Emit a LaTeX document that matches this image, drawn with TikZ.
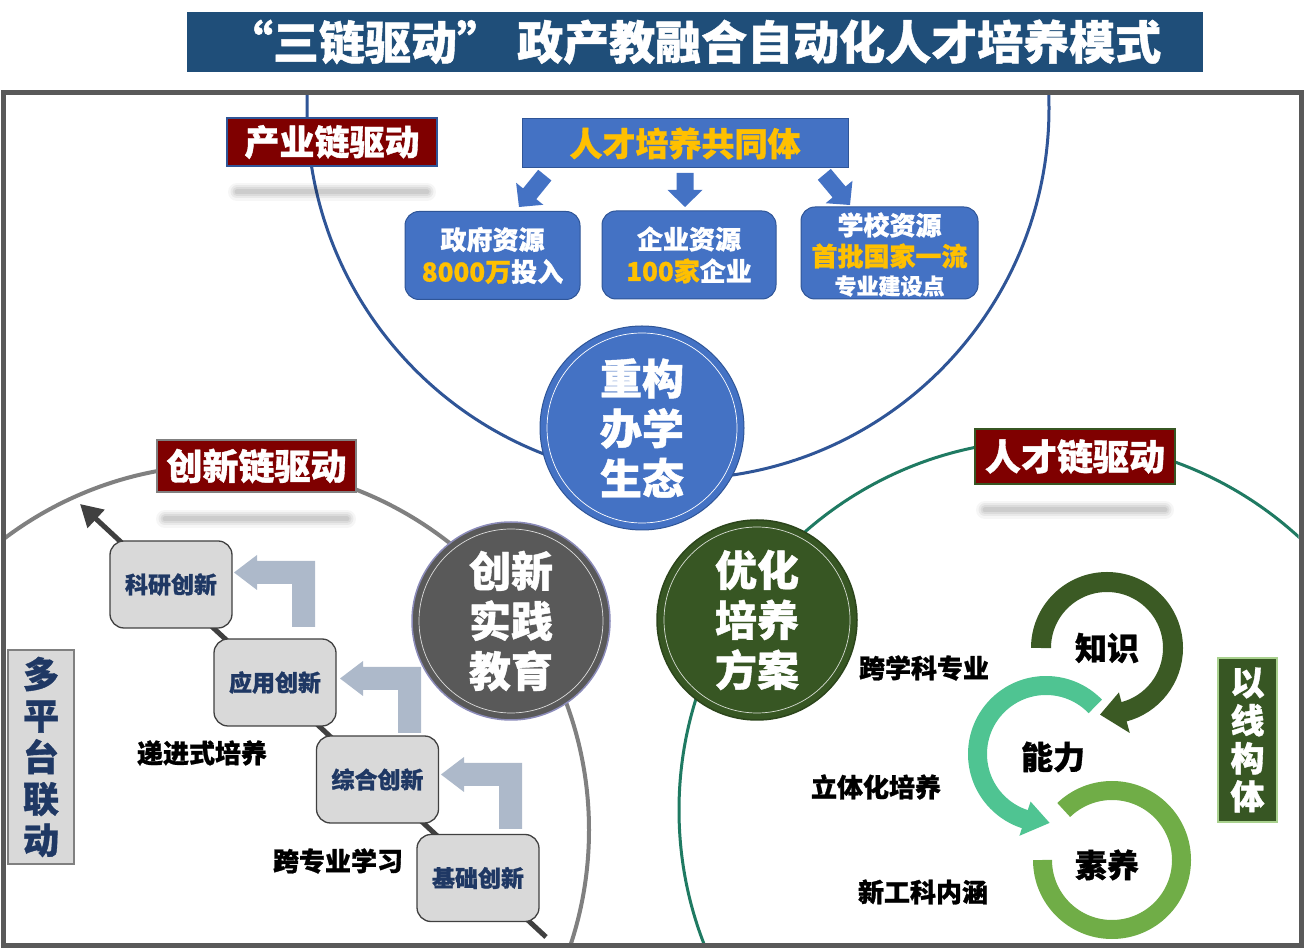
\documentclass[tikz,border=0pt]{standalone}
\usepackage{fontspec}
\setmainfont{Noto Sans CJK SC}[BoldFeatures={FakeBold=1}]
\usetikzlibrary{arrows.meta,calc}
\definecolor{titleblue}{HTML}{1F4E79}
\definecolor{framegray}{HTML}{595959}
\definecolor{bigblue}{HTML}{2F5597}
\definecolor{midblue}{HTML}{4472C4}
\definecolor{darkred}{HTML}{7F0000}
\definecolor{goldc}{HTML}{FFC000}
\definecolor{navyc}{HTML}{1F3864}
\definecolor{boxgray}{HTML}{D9D9D9}
\definecolor{elbowc}{HTML}{ADB9CA}
\definecolor{darkgreen}{HTML}{375623}
\definecolor{tealc}{HTML}{1F7A62}
\definecolor{circgray}{HTML}{808080}
\definecolor{stairgray}{HTML}{404040}
\definecolor{innergray}{HTML}{595959}
\definecolor{ringA}{HTML}{3B5A24}
\definecolor{ringB}{HTML}{4FC492}
\definecolor{ringC}{HTML}{70AD47}
\definecolor{lightgreen}{HTML}{A9D18E}
\newcommand\fs[2]{\fontsize{#1pt}{#2pt}\selectfont\bfseries}
\newcommand\softbar[3]{\foreach \w/\o in {18/0.035,13/0.05,9/0.06,5/0.07}{\draw[black,opacity=\o,line width=\w pt,line cap=round] (#1,#3) -- (#2,#3);}}
\newcommand\blockarrow[4]{\fill[midblue, shift={(#1,#2)}, rotate=#3] (0,0) -- (-17,17.5) -- (-17,8.5) -- (-#4,8.5) -- (-#4,-8.5) -- (-17,-8.5) -- (-17,-17.5) -- cycle;}
\newcommand\elbow[3]{\fill[elbowc] (#1,#2) -- (#1,#3) -- ({#1-23},#3) -- ({#1-23},{#2-23}) -- ({#1-58},{#2-23}) -- ({#1-58},{#2-29}) -- ({#1-81},{#2-11.5}) -- ({#1-58},{#2+6}) -- ({#1-58},#2) -- cycle;}
\begin{document}
\begin{tikzpicture}[x=1pt,y=1pt,
  txt/.style={inner sep=0pt, align=center},
  chainlbl/.style={fill=darkred, text=white, line width=1.5pt, inner sep=0pt, font=\fs{35}{40}},
  resbox/.style={fill=midblue, draw=bigblue, line width=1pt, rounded corners=14pt, inner sep=0pt,
     minimum height=88pt, text=white, align=center, font=\fs{26}{32}},
  stairbox/.style={fill=boxgray, draw=stairgray, line width=1.3pt, rounded corners=14pt, inner sep=0pt,
     minimum width=122pt, minimum height=87pt, text=navyc, font=\fs{23}{28}},
  bigcirc/.style={circle, inner sep=0pt, text=white, align=center, font=\fs{42}{50}},
  plainlbl/.style={inner sep=0pt, text=black, font=\fs{26}{30}},
  ringlbl/.style={inner sep=0pt, text=black, font=\fs{32}{36}}]
\useasboundingbox (0,0) rectangle (1304,948);
% title
\node[fill=titleblue, minimum width=1016pt, minimum height=60pt, inner sep=0pt] (title) at (695,906) {};
\node[txt, text=white, font=\fs{46}{50}] (t1) at (365,906) {“三链驱动”};
\node[txt, text=white, font=\fs{46}{50}, anchor=west] (t2) at (517,906) {政产教融合自动化人才培养模式};
% big circles
\begin{scope}
\clip (5.5,5.5) rectangle (1298.5,852.5);
\draw[bigblue, line width=3pt] (678,840) circle[radius=371];
\draw[circgray, line width=4pt] (224,118) circle[radius=365];
\draw[tealc, line width=3pt] (1049,138) circle[radius=370];
\end{scope}
\draw[framegray, line width=5pt] (3,3) rectangle (1301,855);
% shadows
\softbar{237}{427}{756}
\softbar{165}{347}{429}
\softbar{985}{1165}{438}
% chain labels
\node[chainlbl, draw=bigblue, minimum width=210pt, minimum height=48pt] (l1) at (332,806) {产业链驱动};
\node[chainlbl, draw=circgray, minimum width=199pt, minimum height=52pt, font=\fs{36}{40}] (l2) at (256.5,482) {创新链驱动};
\node[chainlbl, draw=darkgreen, minimum width=200pt, minimum height=55pt, font=\fs{36}{40}] (l3) at (1075,491.5) {人才链驱动};
% community
\node[fill=midblue, draw=bigblue, line width=1pt, minimum width=326pt, minimum height=49pt, inner sep=0pt, text=goldc, font=\fs{33}{36}] (com) at (685,804.5) {人才培养共同体};
\blockarrow{519}{741}{-129}{41}
\blockarrow{685}{741}{-90}{34}
\blockarrow{850}{743}{-50}{40}
% resources
\node[resbox, minimum width=175pt] (r1) at (492.5,692.5) {政府资源\\\textcolor{goldc}{8000万}投入};
\node[resbox, minimum width=174pt] (r2) at (689,693) {企业资源\\\textcolor{goldc}{100家}企业};
\node[resbox, minimum width=177pt, minimum height=92pt] (r3) at (889.5,695) {};
\node[txt, text=white, font=\fs{26}{30}] (r3a) at (889.5,723) {学校资源};
\node[txt, text=goldc, font=\fs{26}{30}] (r3b) at (889.5,692) {首批国家一流};
\node[txt, text=white, font=\fs{22}{26}] (r3c) at (889.5,662) {专业建设点};
% centre circles
\node[bigcirc, fill=midblue, draw=bigblue, line width=1pt, minimum size=204pt] (c1) at (642,520) {重构\\办学\\生态};
\draw[white, line width=0.7pt] (c1.center) circle[radius=95];
\node[bigcirc, fill=innergray, draw=innergray!70!blue!60!white, line width=1.5pt, minimum size=198pt] (c2) at (511,327) {创新\\实践\\教育};
\draw[white, opacity=0.8, line width=0.7pt] (c2.center) circle[radius=92];
\node[bigcirc, fill=darkgreen, draw=darkgreen!80!black, line width=1.5pt, minimum size=200pt] (c3) at (757,328) {优化\\培养\\方案};
\draw[white, opacity=0.8, line width=0.7pt] (c3.center) circle[radius=93];
% staircase
\coordinate (sEnd) at (546,11);
\coordinate (sTip) at (80,444);
\draw[stairgray, line width=5pt, -{Triangle[length=22pt,width=24pt]}] (sEnd) -- (sTip);
\node[stairbox] (s1) at (171,363.5) {科研创新};
\node[stairbox] (s2) at (275,265.5) {应用创新};
\node[stairbox] (s3) at (377.5,168.5) {综合创新};
\node[stairbox] (s4) at (478,70) {基础创新};
\elbow{315}{387}{321}
\elbow{421}{281}{215}
\elbow{522}{185}{119}
\node[plainlbl] (p1) at (202,195) {递进式培养};
\node[plainlbl] (p2) at (338,87) {跨专业学习};
\node[fill=boxgray, draw=circgray, line width=2pt, minimum width=66pt, minimum height=214pt, inner sep=0pt, text=navyc, font=\fs{36}{41.5}, align=center] (mp) at (41,191) {多\\平\\台\\联\\动};
% right side
\node[plainlbl] (q1) at (924,280) {跨学科专业};
\node[plainlbl] (q2) at (876,161) {立体化培养};
\node[plainlbl] (q3) at (923,56) {新工科内涵};
\node[fill=darkgreen, draw=lightgreen, line width=2pt, minimum width=59pt, minimum height=164pt, inner sep=0pt, text=white, font=\fs{34}{38}, align=center] (yx) at (1247.5,208) {以\\线\\构\\体};
% rings
\coordinate (kA) at (1107,300);
\coordinate (kB) at (1046,194);
\coordinate (kC) at (1112,88);
\draw[ringC, line width=19pt] ($(kC)+(180:69.5)$) arc[start angle=180, end angle=494, radius=69.5];
\draw[ringB, line width=19pt] ($(kB)+(44:68.5)$) arc[start angle=44, end angle=253, radius=68.5];
\fill[ringB] ($(kB)+(252:50)$) -- ($(kB)+(252:86)$) -- ($(kB)+(273:69)$) -- cycle;
\draw[ringA, line width=20pt] ($(kA)+(180:66)$) arc[start angle=180, end angle=-76, radius=66];
\fill[ringA] ($(kA)+(-75:46)$) -- ($(kA)+(-75:88)$) -- ($(kA)+(-96:67)$) -- cycle;
\node[ringlbl] (n1) at (1107,300) {知识};
\node[ringlbl] (n2) at (1053,191) {能力};
\node[ringlbl] (n3) at (1107,83) {素养};
\end{tikzpicture}
\end{document}
